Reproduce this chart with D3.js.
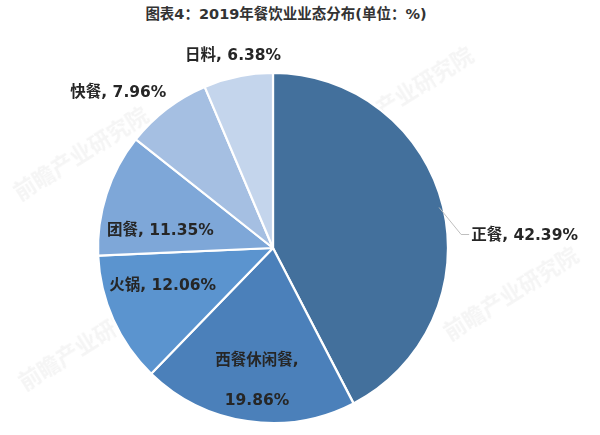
<!DOCTYPE html>
<html><head><meta charset="utf-8">
<script src="https://cdn.jsdelivr.net/npm/d3@7/dist/d3.min.js"></script>
<style>html,body{margin:0;padding:0;background:#fff;}svg{display:block;}</style>
</head><body>
<div id="chart"></div>
<script>
const title = "图表4：2019年餐饮业业态分布(单位：%)";
const categories = ["正餐", "西餐休闲餐", "火锅", "团餐", "快餐", "日料"];
const values = [42.39, 19.86, 12.06, 11.35, 7.96, 6.38];
const colors = ["#43709c", "#4b80ba", "#5b94cf", "#7ea7d8", "#a5bfe2", "#c4d5ec"];

const W = 600, H = 435;
const cx = 273, cy = 248, R = 175;
const font = "'DejaVu Sans', 'Noto Sans CJK SC', sans-serif";

const svg = d3.select("#chart").append("svg").attr("width", W).attr("height", H);

// faint watermarks
const wm = svg.append("g").attr("fill", "#dcdcdc").attr("opacity", 0.3)
  .attr("font-family", "'Noto Sans CJK SC', sans-serif").attr("font-weight", 700).attr("font-size", 22);
[[85, 160], [410, 100], [515, 300], [90, 350], [250, 285]].forEach(p => {
  wm.append("text").attr("transform", `translate(${p[0]},${p[1]}) rotate(-32)`)
    .attr("text-anchor", "middle").text("前瞻产业研究院");
});

svg.append("text").attr("x", 286).attr("y", 19).attr("text-anchor", "middle")
  .attr("font-family", "'DejaVu Sans', 'Noto Sans CJK SC', sans-serif").attr("font-weight", 700)
  .attr("font-size", 14.5).attr("fill", "#333").text(title);

const data = categories.map((c, i) => ({cat: c, val: values[i], color: colors[i]}));
const pie = d3.pie().value(d => d.val).sort(null);
const arcs = pie(data);
const arc = d3.arc().innerRadius(0).outerRadius(R);

const g = svg.append("g").attr("transform", `translate(${cx},${cy})`);
g.selectAll("path").data(arcs).join("path")
  .attr("d", arc).attr("fill", d => d.data.color)
  .attr("stroke", "#fff").attr("stroke-width", 2.2).attr("stroke-linejoin", "round");

// label layout: position relative to slice mid-angle point at radius lr, plus nudge
const labelLayout = [
  {lr: R, dx: 0, dy: 0, outside: true},
  {lr: 110, dx: 0, dy: 3},
  {lr: 110, dx: -10, dy: -8},
  {lr: 110, dx: -8, dy: 16},
  {lr: 110, dx: -88, dy: -69},
  {lr: 110, dx: -18, dy: -85}
];

const lab = g.append("g").attr("font-family", font).attr("font-weight", 700)
  .attr("font-size", 15.5).attr("fill", "#262626");

arcs.forEach((a, i) => {
  const L = labelLayout[i];
  const p = d3.arc().innerRadius(L.lr).outerRadius(L.lr).centroid(a);
  const txt = a.data.cat + ", " + d3.format(".2f")(a.data.val) + "%";
  if (L.outside) {
    const p1 = d3.arc().innerRadius(R - 4).outerRadius(R - 4).centroid(a);
    const tx = p1[0] + 22, ty = p1[1] + 27;
    g.append("polyline").attr("points", `${p1[0]},${p1[1]} ${tx},${ty} ${tx + 8},${ty}`)
      .attr("fill", "none").attr("stroke", "#bfbfbf").attr("stroke-width", 1);
    lab.append("text").attr("x", tx + 10).attr("y", ty).attr("dominant-baseline", "central")
      .text(txt);
  } else if (a.data.cat.length > 3) {
    const t = lab.append("text").attr("text-anchor", "middle");
    t.append("tspan").attr("x", p[0] + L.dx).attr("y", p[1] + L.dy).attr("dominant-baseline", "central")
      .text(a.data.cat + ",");
    t.append("tspan").attr("x", p[0] + L.dx).attr("y", p[1] + L.dy + 40).attr("dominant-baseline", "central")
      .text(d3.format(".2f")(a.data.val) + "%");
  } else {
    lab.append("text").attr("x", p[0] + L.dx).attr("y", p[1] + L.dy)
      .attr("text-anchor", "middle").attr("dominant-baseline", "central").text(txt);
  }
});
</script>
</body></html>
